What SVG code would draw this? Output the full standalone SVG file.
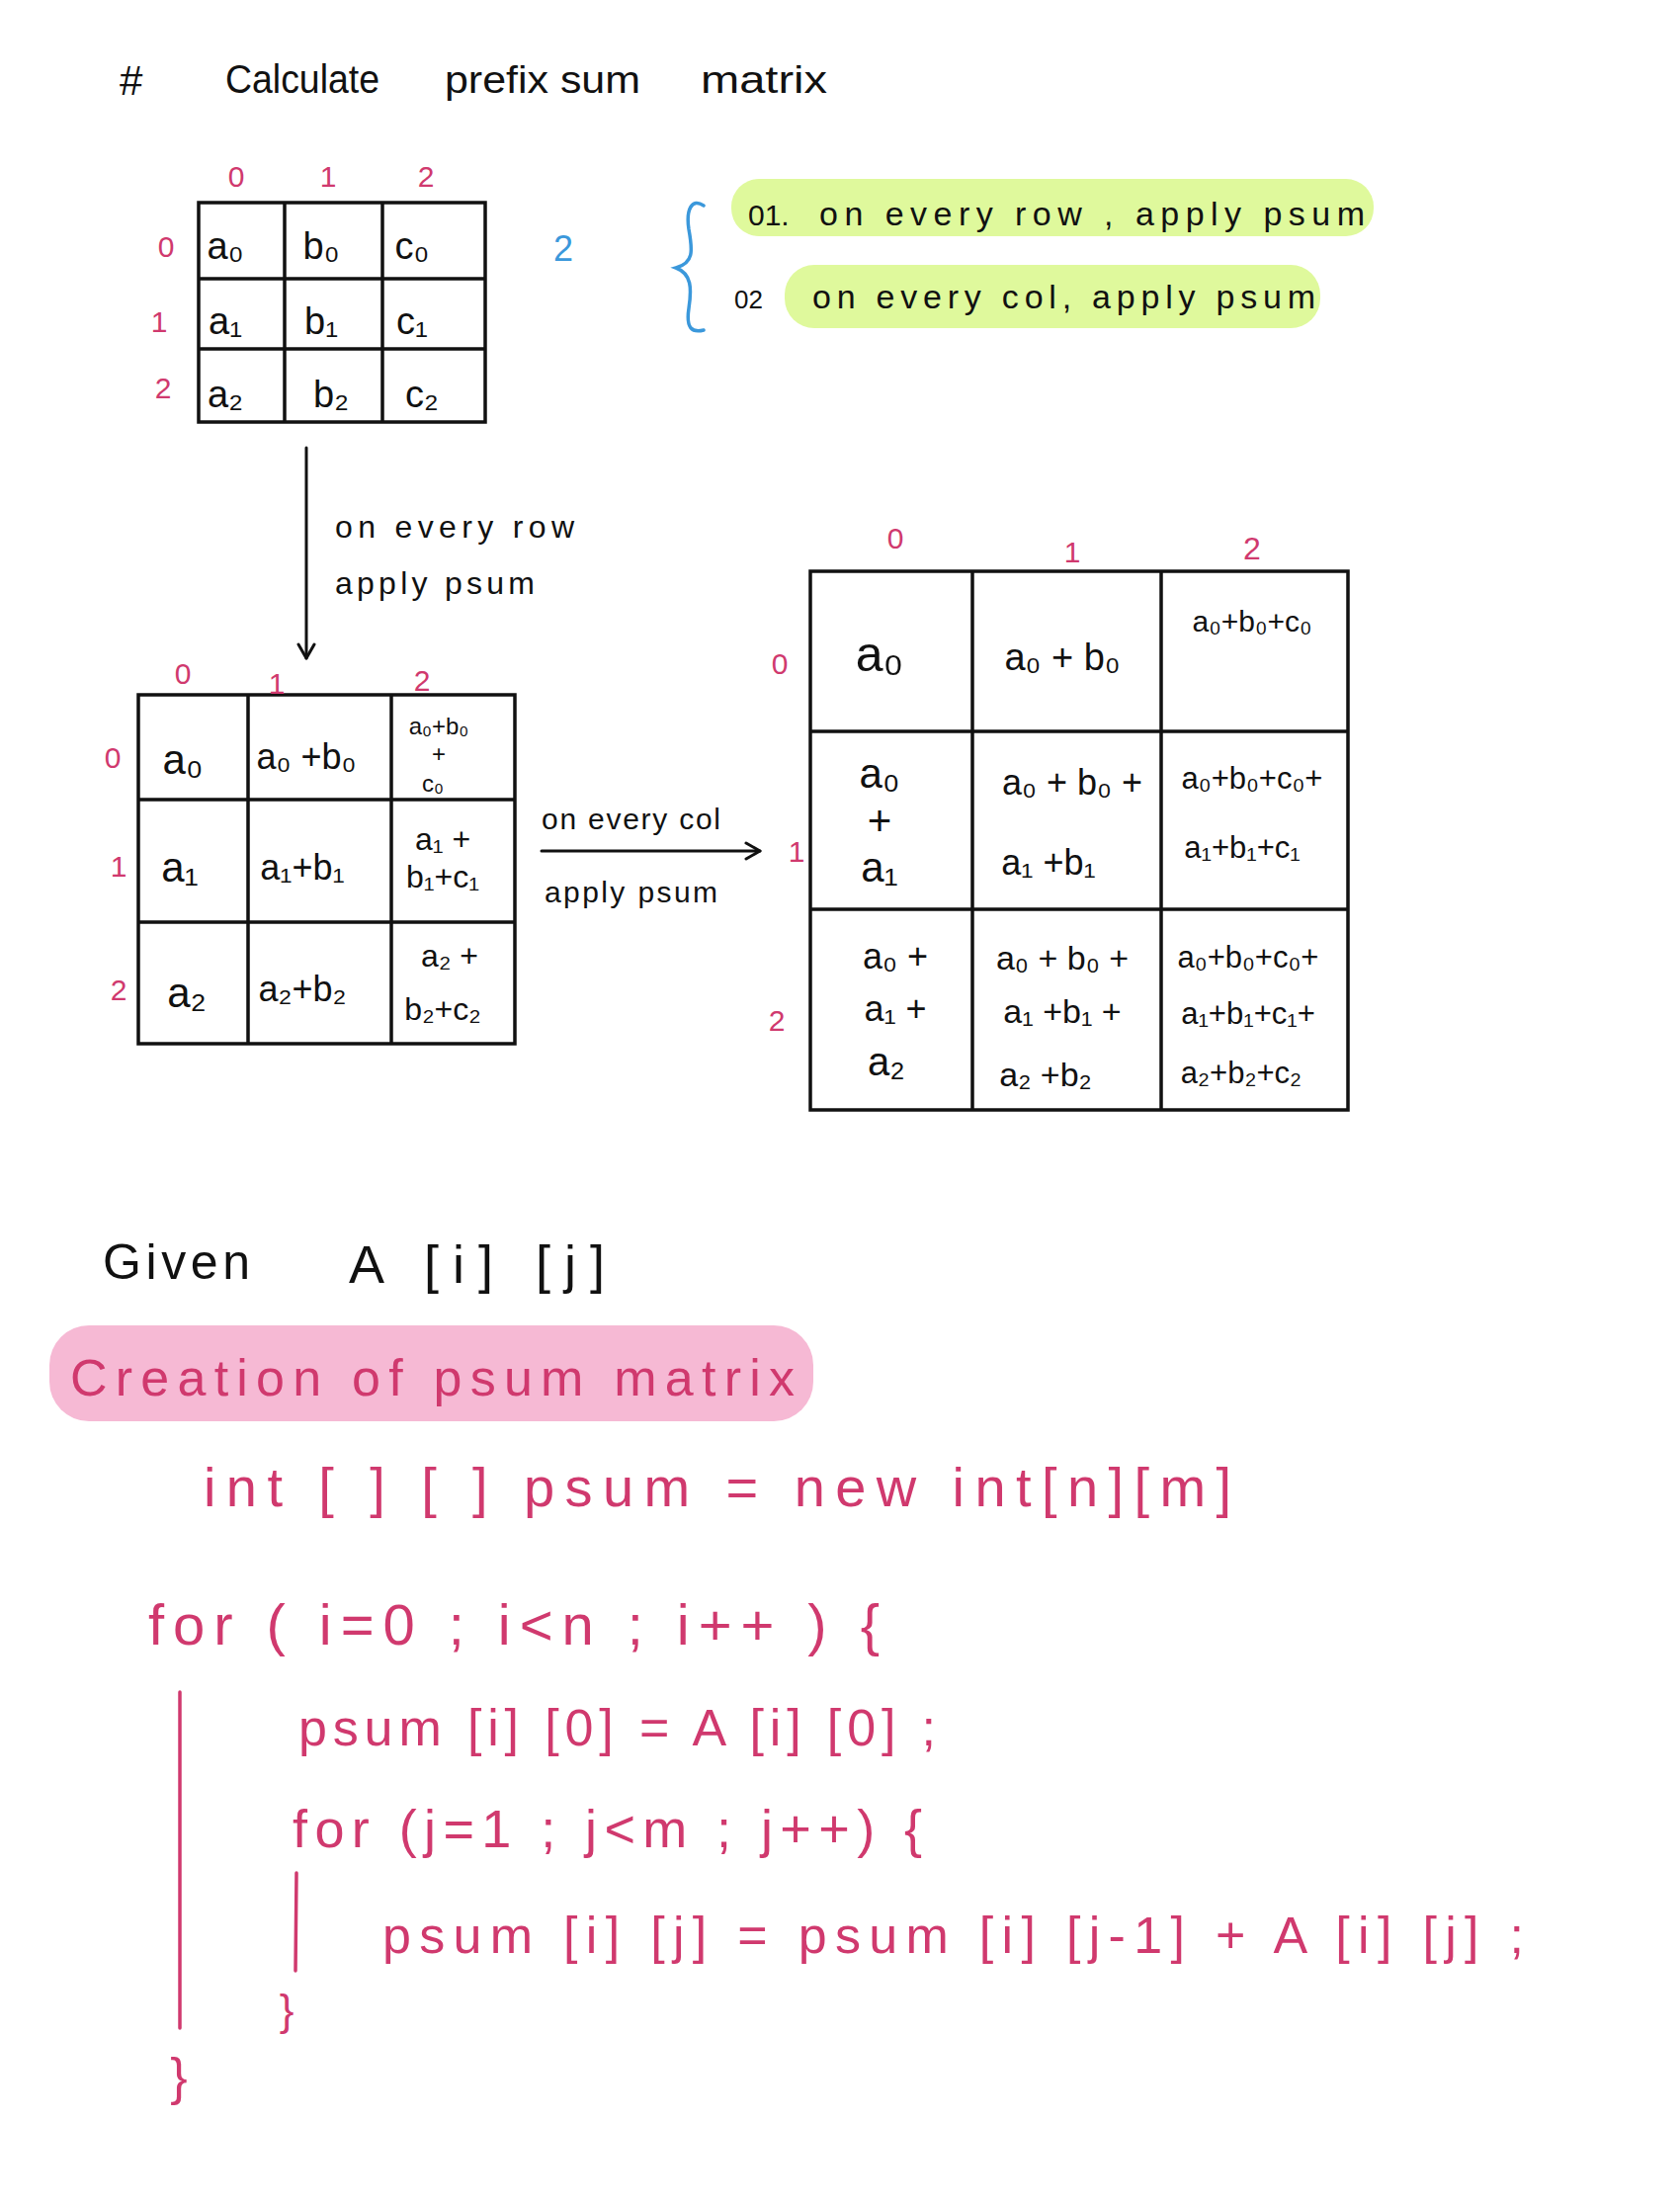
<svg xmlns="http://www.w3.org/2000/svg" width="1700" height="2232" viewBox="0 0 1700 2232">
<style>
text{font-family:"Liberation Sans","DejaVu Sans",sans-serif;fill:#111}
.pk{fill:#d0396e}
.bl{fill:#3b98db}
.c{text-anchor:middle}
.grid{stroke:#111;stroke-width:3.5;fill:none;stroke-linecap:square}
.pline{stroke:#d0396e;stroke-width:3.5;fill:none;stroke-linecap:round}
.conn{stroke:#111;stroke-width:3;fill:none;stroke-linecap:round}
</style>
<defs>
<marker id="chev" viewBox="0 0 20 20" refX="18" refY="10" markerWidth="20" markerHeight="20" markerUnits="userSpaceOnUse" orient="auto">
<path d="M4,2 L18,10 L4,18" fill="none" stroke="#111" stroke-width="3" stroke-linecap="round" stroke-linejoin="round"/>
</marker>
</defs>
<rect width="1700" height="2232" fill="#fff"/>

<g id="title">
<text x="121" y="96" font-size="42">#</text>
<text x="228" y="94" font-size="40" textLength="156" lengthAdjust="spacingAndGlyphs">Calculate</text>
<text x="450" y="94" font-size="38" textLength="198" lengthAdjust="spacingAndGlyphs">prefix sum</text>
<text x="709" y="94" font-size="38" textLength="128" lengthAdjust="spacingAndGlyphs">matrix</text>
</g>

<g id="matrix1">
<path class="grid" d="M201,205 H491 V427 H201 Z M288,205 V427 M387,205 V427 M201,282 H491 M201,353 H491"/>
<text class="pk c" x="239" y="189" font-size="30">0</text>
<text class="pk c" x="332" y="189" font-size="30">1</text>
<text class="pk c" x="431" y="189" font-size="30">2</text>
<text class="pk c" x="168" y="260" font-size="30">0</text>
<text class="pk c" x="161" y="336" font-size="30">1</text>
<text class="pk c" x="165" y="403" font-size="30">2</text>
<text class="c" x="228" y="262" font-size="38">a₀</text>
<text class="c" x="325" y="262" font-size="38">b₀</text>
<text class="c" x="417" y="262" font-size="38">c₀</text>
<text class="c" x="228" y="338" font-size="38">a₁</text>
<text class="c" x="325" y="338" font-size="38">b₁</text>
<text class="c" x="417" y="338" font-size="38">c₁</text>
<text class="c" x="228" y="412" font-size="38">a₂</text>
<text class="c" x="335" y="412" font-size="38">b₂</text>
<text class="c" x="427" y="412" font-size="38">c₂</text>
</g>

<g id="steps">
<text class="bl c" x="570" y="264" font-size="36">2</text>
<path d="M712,208 C700,200 694,212 697,232 C701,254 702,266 684,271 C700,277 700,292 697,312 C694,332 700,337 712,334" fill="none" stroke="#3b98db" stroke-width="3.5" stroke-linecap="round"/>
<rect x="740" y="181" width="650" height="58" rx="28" fill="#dff99c"/>
<rect x="794" y="268" width="542" height="64" rx="30" fill="#dff99c"/>
<text x="757" y="228" font-size="30">01.</text>
<text x="829" y="228" font-size="34" textLength="552" lengthAdjust="spacing">on every row , apply psum</text>
<text x="743" y="312" font-size="26">02</text>
<text x="822" y="312" font-size="34" textLength="509" lengthAdjust="spacing">on every col, apply psum</text>
</g>

<g id="connectors">
<line class="conn" x1="310" y1="453" x2="310" y2="666" marker-end="url(#chev)"/>
<line class="conn" x1="548" y1="861" x2="769" y2="861" marker-end="url(#chev)"/>
<text x="339" y="544" font-size="32" textLength="242" lengthAdjust="spacing">on every row</text>
<text x="339" y="601" font-size="32" textLength="202" lengthAdjust="spacing">apply psum</text>
<text x="548" y="839" font-size="30" textLength="181" lengthAdjust="spacing">on every col</text>
<text x="551" y="913" font-size="30" textLength="175" lengthAdjust="spacing">apply psum</text>
</g>

<g id="matrix2">
<path class="grid" d="M140,703 H521 V1056 H140 Z M251,703 V1056 M396,703 V1056 M140,809 H521 M140,933 H521"/>
<text class="pk c" x="185" y="692" font-size="30">0</text>
<text class="pk c" x="280" y="702" font-size="30">1</text>
<text class="pk c" x="427" y="699" font-size="30">2</text>
<text class="pk c" x="114" y="777" font-size="30">0</text>
<text class="pk c" x="120" y="887" font-size="30">1</text>
<text class="pk c" x="120" y="1012" font-size="30">2</text>
<text class="c" x="185" y="783" font-size="42">a₀</text>
<text class="c" x="310" y="778" font-size="36">a₀ +b₀</text>
<text class="c" x="444" y="743" font-size="24">a₀+b₀</text>
<text class="c" x="444" y="771" font-size="24">+</text>
<text class="c" x="438" y="801" font-size="24">c₀</text>
<text class="c" x="182" y="892" font-size="42">a₁</text>
<text class="c" x="306" y="890" font-size="36">a₁+b₁</text>
<text class="c" x="448" y="860" font-size="32">a₁ +</text>
<text class="c" x="448" y="898" font-size="32">b₁+c₁</text>
<text class="c" x="189" y="1019" font-size="42">a₂</text>
<text class="c" x="306" y="1013" font-size="36">a₂+b₂</text>
<text class="c" x="455" y="978" font-size="32">a₂ +</text>
<text class="c" x="448" y="1032" font-size="32">b₂+c₂</text>
</g>

<g id="matrix3">
<path class="grid" d="M820,578 H1364 V1123 H820 Z M984,578 V1123 M1175,578 V1123 M820,740 H1364 M820,920 H1364"/>
<text class="pk c" x="906" y="555" font-size="30">0</text>
<text class="pk c" x="1085" y="569" font-size="30">1</text>
<text class="pk c" x="1267" y="566" font-size="32">2</text>
<text class="pk c" x="789" y="682" font-size="30">0</text>
<text class="pk c" x="806" y="872" font-size="30">1</text>
<text class="pk c" x="786" y="1043" font-size="30">2</text>
<text class="c" x="890" y="679" font-size="50">a₀</text>
<text class="c" x="1075" y="678" font-size="38">a₀ + b₀</text>
<text class="c" x="1267" y="639" font-size="30">a₀+b₀+c₀</text>
<text class="c" x="890" y="797" font-size="42">a₀</text>
<text class="c" x="890" y="845" font-size="42">+</text>
<text class="c" x="890" y="892" font-size="42">a₁</text>
<text class="c" x="1085" y="804" font-size="36">a₀ + b₀ +</text>
<text class="c" x="1061" y="885" font-size="36">a₁ +b₁</text>
<text class="c" x="1267" y="798" font-size="31">a₀+b₀+c₀+</text>
<text class="c" x="1257" y="868" font-size="31">a₁+b₁+c₁</text>
<text class="c" x="906" y="980" font-size="36">a₀ +</text>
<text class="c" x="906" y="1033" font-size="36">a₁ +</text>
<text class="c" x="897" y="1088" font-size="40">a₂</text>
<text class="c" x="1075" y="981" font-size="34">a₀ + b₀ +</text>
<text class="c" x="1075" y="1035" font-size="34">a₁ +b₁ +</text>
<text class="c" x="1058" y="1099" font-size="34">a₂ +b₂</text>
<text class="c" x="1263" y="979" font-size="31">a₀+b₀+c₀+</text>
<text class="c" x="1263" y="1036" font-size="31">a₁+b₁+c₁+</text>
<text class="c" x="1256" y="1096" font-size="31">a₂+b₂+c₂</text>
</g>

<g id="given">
<text x="104" y="1294" font-size="50" textLength="149" lengthAdjust="spacing">Given</text>
<text x="353" y="1298" font-size="54" textLength="259" lengthAdjust="spacing">A [i] [j]</text>
</g>

<g id="heading">
<rect x="50" y="1341" width="773" height="97" rx="40" fill="#f6b9d4"/>
<text class="pk" x="71" y="1412" font-size="52" textLength="733" lengthAdjust="spacing">Creation of psum matrix</text>
</g>

<g id="code">
<text class="pk" x="206" y="1524" font-size="56" textLength="1040" lengthAdjust="spacing">int [ ] [ ] psum = new int[n][m]</text>
<text class="pk" x="150" y="1664" font-size="58" textLength="740" lengthAdjust="spacing">for ( i=0 ; i&lt;n ; i++ ) {</text>
<line class="pline" x1="182" y1="1712" x2="182" y2="2052"/>
<text class="pk" x="302" y="1766" font-size="52" textLength="645" lengthAdjust="spacing">psum [i] [0] = A [i] [0] ;</text>
<text class="pk" x="296" y="1869" font-size="54" textLength="637" lengthAdjust="spacing">for (j=1 ; j&lt;m ; j++) {</text>
<line class="pline" x1="300" y1="1895" x2="299" y2="1994"/>
<text class="pk" x="387" y="1976" font-size="52" textLength="1155" lengthAdjust="spacing">psum [i] [j] = psum [i] [j-1] + A [i] [j] ;</text>
<text class="pk c" x="290" y="2049" font-size="44">}</text>
<text class="pk c" x="181" y="2119" font-size="52">}</text>
</g>
</svg>
